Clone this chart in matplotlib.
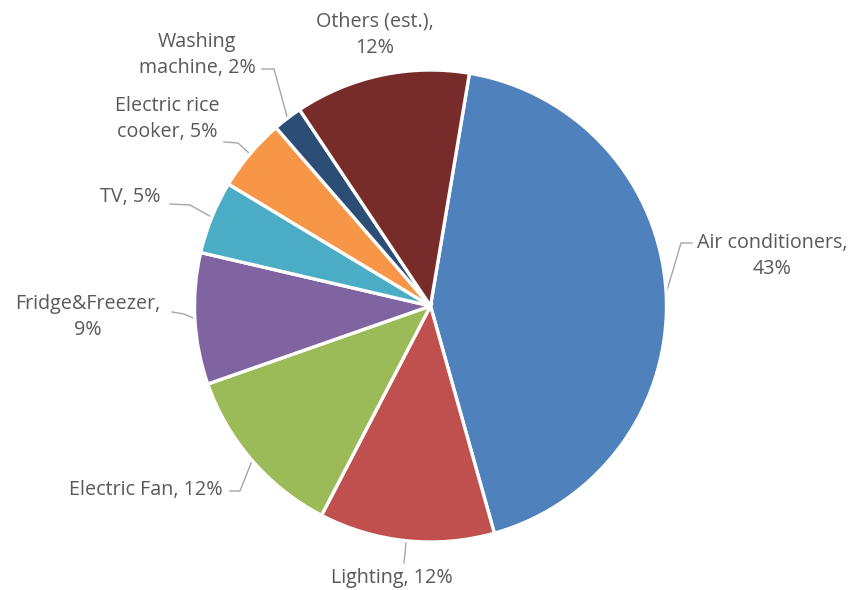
import numpy as np
import matplotlib
matplotlib.use("Agg")
import matplotlib.pyplot as plt

# Household electricity consumption by appliance
categories = ["Air conditioners", "Lighting", "Electric Fan", "Fridge&Freezer",
              "TV", "Electric rice cooker", "Washing machine", "Others (est.)"]
shares = [43, 12, 12, 9, 5, 5, 2, 12]
label_texts = ["Air conditioners,\n43%", "Lighting, 12%", "Electric Fan, 12%",
               "Fridge&Freezer,\n9%", "TV, 5%", "Electric rice\ncooker, 5%",
               "Washing\nmachine, 2%", "Others (est.),\n12%"]
colors = ["#4F81BD", "#C0504D", "#9BBB59", "#8064A2",
          "#4BACC6", "#F79646", "#2C4D75", "#772C2A"]

W, H = 853, 590
fig = plt.figure(figsize=(W / 100, H / 100), dpi=100)
ax = fig.add_axes([0, 0, 1, 1])

cx, cy, R = 430.5, H - 306, 236
start = 80.5

wedges, _ = ax.pie(shares, colors=colors, startangle=start, counterclock=False,
                   center=(cx, cy), radius=R, frame=True,
                   wedgeprops=dict(edgecolor="white", linewidth=2.4))
ax.set_xlim(0, W)
ax.set_ylim(0, H)
ax.set_aspect("equal")
ax.axis("off")

# label placement (pixel positions from top-left) and leader start points
label_pos = {
    0: (772, 256), 1: (392, 578), 2: (146, 490), 3: (88, 317),
    4: (130, 197), 5: (167, 119), 6: (197, 55), 7: (375, 35),
}
leader = {
    0: [(692, 243), (681, 243)],
    1: [(404, 563)],
    2: [(230, 491), (240, 491)],
    3: [(172, 312), (184, 314)],
    4: [(170, 204), (190, 205)],
    5: [(224, 142), (238, 143)],
    6: [(262, 69), (274, 69)],
    7: None,
}

font = dict(family=["Open Sans", "DejaVu Sans"], size=14.2, color="#595959")
for i, w in enumerate(wedges):
    x, y = label_pos[i]
    ax.text(x, H - y, label_texts[i], ha="center", va="center",
            linespacing=1.45, **font)
    if leader[i]:
        mid = np.deg2rad((w.theta1 + w.theta2) / 2)
        ax_pt = (cx + R * np.cos(mid), cy + R * np.sin(mid))
        pts = [(px, H - py) for px, py in leader[i]] + [ax_pt]
        xs, ys = zip(*pts)
        ax.plot(xs, ys, color="#A6A6A6", lw=1, zorder=0.5)

fig.savefig("out.png", dpi=100)
